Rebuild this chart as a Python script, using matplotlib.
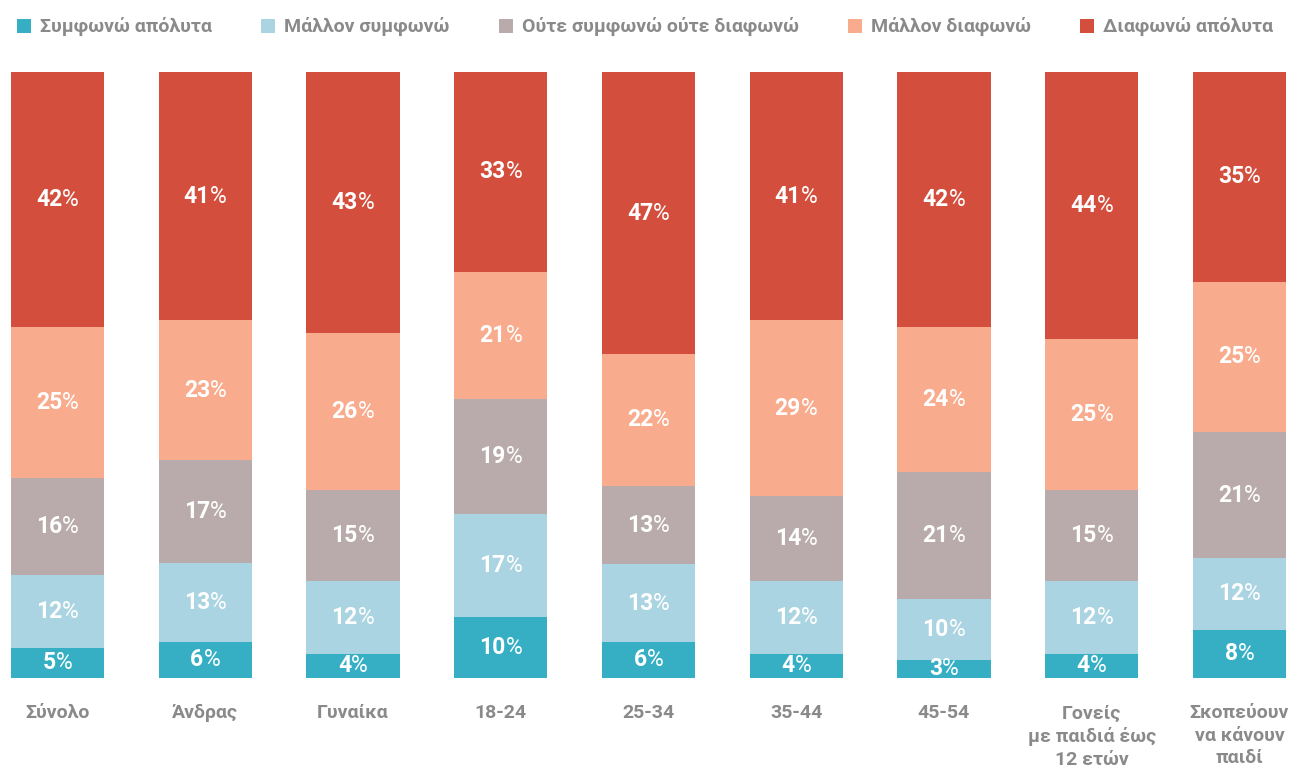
import matplotlib

matplotlib.use("Agg")
import matplotlib.pyplot as plt  # noqa: E402
import numpy as np  # noqa: E402

plt.rcParams["font.family"] = ["Roboto", "DejaVu Sans"]

categories = ["Σύνολο", "Άνδρας", "Γυναίκα", "18-24", "25-34", "35-44", "45-54",
              "Γονείς\nμε παιδιά έως\n12 ετών", "Σκοπεύουν\nνα κάνουν\nπαιδί"]
series = ["Συμφωνώ απόλυτα", "Μάλλον συμφωνώ", "Ούτε συμφωνώ ούτε διαφωνώ",
          "Μάλλον διαφωνώ", "Διαφωνώ απόλυτα"]
agree_full = [5, 6, 4, 10, 6, 4, 3, 4, 8]
agree_rather = [12, 13, 12, 17, 13, 12, 10, 12, 12]
neutral = [16, 17, 15, 19, 13, 14, 21, 15, 21]
disagree_rather = [25, 23, 26, 21, 22, 29, 24, 25, 25]
disagree_full = [42, 41, 43, 33, 47, 41, 42, 44, 35]
colors = ["#36afc5", "#aad4e1", "#b9abab", "#f9ab8e", "#d34e3c"]
GREY = "#8a8a8a"

W, H, DPI = 1293, 767, 100
fig = plt.figure(figsize=(W / DPI, H / DPI), dpi=DPI)
ax = fig.add_axes([11 / W, (H - 678) / H, (1286 - 11) / W, (678 - 72) / H])

vals = np.array([agree_full, agree_rather, neutral, disagree_rather, disagree_full], float)
shares = vals / vals.sum(axis=0) * 100
x = np.arange(len(categories))
bw = 0.63
bottom = np.zeros(len(categories))
labels = []
for i, (row, share) in enumerate(zip(vals, shares)):
    ax.bar(x, share, bw, bottom=bottom, color=colors[i], linewidth=0)
    for xi, v, b, s in zip(x, row, bottom, share):
        yc = b + s / 2
        t1 = ax.annotate(f"{v:.0f}", (xi, yc), xytext=(0, 0), textcoords="offset pixels",
                         ha="left", va="center", color="white", fontsize=16.5, fontweight="bold")
        t2 = ax.annotate("%", (xi, yc), xytext=(0, 0), textcoords="offset pixels",
                         ha="left", va="center", color="white", fontsize=16.5)
        labels.append((t1, t2))
    bottom += share

ax.set_xlim(-bw / 2, len(categories) - 1 + bw / 2)
ax.set_ylim(0, 100)
ax.set_xticks(x)
ax.set_xticklabels(categories, color=GREY, fontsize=14, fontweight="bold", linespacing=1.32,
                   va="top")
ax.tick_params(axis="x", length=0, pad=19)
ax.set_yticks([])
for sp in ax.spines.values():
    sp.set_visible(False)

# legend across the top: squares + names, spread from x=17 to x=1273 px
sq, gap_in = 14, 9
legend_texts = [fig.text(0, (H - 26) / H, name, color=GREY, fontsize=14, fontweight="bold",
                         ha="left", va="center") for name in series]
fig.canvas.draw()
r = fig.canvas.get_renderer()
widths = [t.get_window_extent(r).width for t in legend_texts]
free = (1273 - 17) - sum(widths) - len(series) * (sq + gap_in)
gap_out = free / (len(series) - 1)
lx = 17
for t, w, c in zip(legend_texts, widths, colors):
    fig.patches.append(plt.Rectangle((lx / W, (H - 33) / H), sq / W, sq / H,
                                     transform=fig.transFigure, color=c, linewidth=0))
    t.set_x((lx + sq + gap_in) / W)
    lx += sq + gap_in + w + gap_out

# center the bold number + light "%" pair inside each segment
for t1, t2 in labels:
    w1 = t1.get_window_extent(r).width
    w2 = t2.get_window_extent(r).width
    left = -(w1 + w2) / 2
    t1.xyann = (left, 0)
    t2.xyann = (left + w1, 0)

fig.savefig("out.png", dpi=DPI)
